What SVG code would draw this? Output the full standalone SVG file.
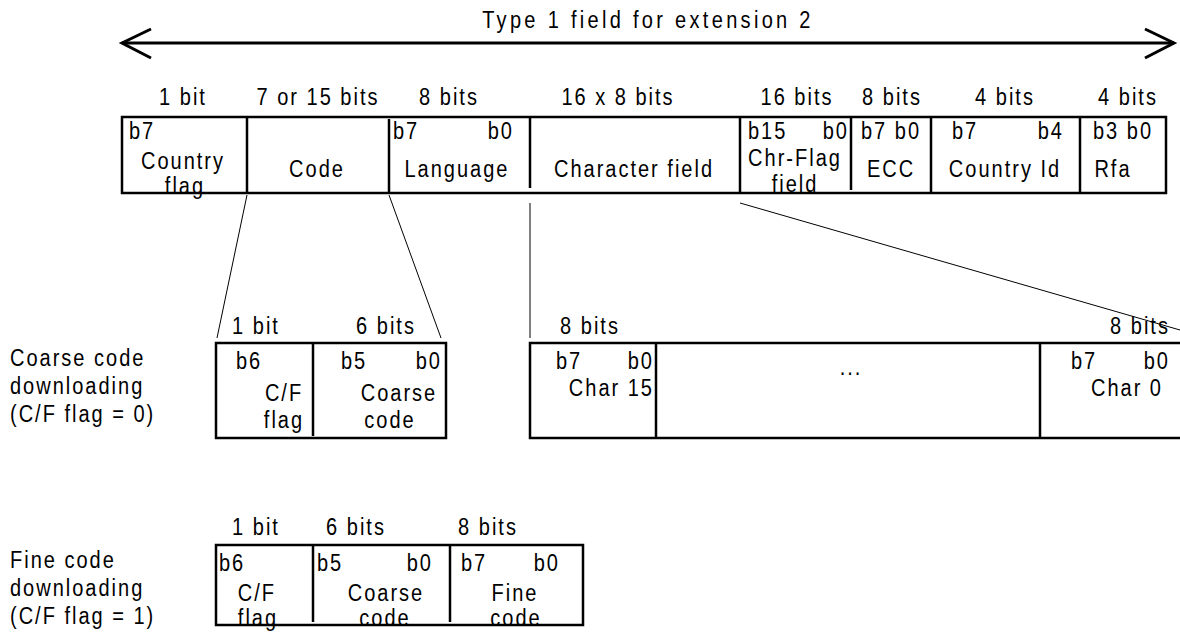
<svg xmlns="http://www.w3.org/2000/svg" width="1180" height="635" viewBox="0 0 1180 635">
<style>
text{font-family:"Liberation Sans",Arial,sans-serif;font-size:23px;letter-spacing:2.3px;fill:#000;transform-box:fill-box;transform-origin:0% 50%;transform:scaleX(0.87)}
.m{text-anchor:middle;transform-origin:50% 50%}
.e{text-anchor:end;transform-origin:100% 50%}
.t{letter-spacing:3.8px}
.box{fill:#fff;stroke:#000;stroke-width:2.5}
.div{stroke:#000;stroke-width:2.5;fill:none}
.thin{stroke:#000;stroke-width:1;fill:none}
.arrow{stroke:#000;stroke-width:3;fill:none}
</style>
<rect width="1180" height="635" fill="#fff"/>
<g id="title">
<text class="m t" x="648" y="28">Type 1 field for extension 2</text>
<line class="arrow" x1="122" y1="43" x2="1174" y2="43"/>
<polyline class="arrow" points="151,29 122,43 151,58"/>
<polyline class="arrow" points="1145,29 1174,43 1145,58"/>
</g>
<g id="main-row">
<text class="m" x="183" y="105">1 bit</text>
<text class="m" x="318" y="105">7 or 15 bits</text>
<text class="m" x="449" y="105">8 bits</text>
<text class="m" x="618" y="105">16 x 8 bits</text>
<text class="m" x="797" y="105">16 bits</text>
<text class="m" x="892" y="105">8 bits</text>
<text class="m" x="1005" y="105">4 bits</text>
<text class="m" x="1128" y="105">4 bits</text>
<rect class="box" x="122" y="117" width="1044" height="76"/>
<line class="div" x1="247" y1="117" x2="247" y2="193"/>
<line class="div" x1="389" y1="119" x2="389" y2="193"/>
<line class="div" x1="530" y1="117" x2="530" y2="188"/>
<line class="div" x1="740" y1="117" x2="740" y2="193"/>
<line class="div" x1="851" y1="117" x2="851" y2="190"/>
<line class="div" x1="931" y1="117" x2="931" y2="193"/>
<line class="div" x1="1080" y1="117" x2="1080" y2="193"/>
<text x="129" y="139">b7</text>
<text class="m" x="183" y="169">Country</text>
<text class="m" x="185" y="194">flag</text>
<text class="m" x="317" y="177">Code</text>
<text x="393" y="139">b7</text>
<text class="e" x="514" y="139">b0</text>
<text class="m" x="457" y="177">Language</text>
<text class="m" x="634" y="177">Character field</text>
<text x="748" y="139">b15</text>
<text class="e" x="849" y="139">b0</text>
<text class="m" x="795" y="166">Chr-Flag</text>
<text class="m" x="795" y="192">field</text>
<text class="m" x="891" y="139">b7 b0</text>
<text class="m" x="891" y="177">ECC</text>
<text x="952" y="139">b7</text>
<text class="e" x="1064" y="139">b4</text>
<text class="m" x="1005" y="177">Country Id</text>
<text class="m" x="1123" y="139">b3 b0</text>
<text class="m" x="1113" y="177">Rfa</text>
</g>
<g id="connectors">
<line class="thin" x1="247" y1="195" x2="217" y2="338"/>
<line class="thin" x1="389" y1="195" x2="441" y2="338"/>
<line class="thin" x1="530" y1="203" x2="530" y2="338"/>
<line class="thin" x1="740" y1="203" x2="1180" y2="330"/>
</g>
<g id="coarse-label">
<text x="10" y="366">Coarse code</text>
<text x="10" y="394">downloading</text>
<text x="10" y="422">(C/F flag = 0)</text>
</g>
<g id="coarse-box">
<text class="m" x="256" y="334">1 bit</text>
<text class="m" x="386" y="334">6 bits</text>
<rect class="box" x="216" y="343" width="230" height="95"/>
<line class="div" x1="313" y1="343" x2="313" y2="436"/>
<text x="236" y="369">b6</text>
<text class="m" x="284" y="401">C/F</text>
<text class="m" x="284" y="428">flag</text>
<text x="341" y="369">b5</text>
<text class="e" x="442" y="369">b0</text>
<text class="m" x="399" y="401">Coarse</text>
<text class="m" x="390" y="428">code</text>
</g>
<g id="char-box">
<text class="m" x="590" y="334">8 bits</text>
<text class="m" x="1140" y="334">8 bits</text>
<rect class="box" x="530" y="343" width="660" height="95"/>
<line class="div" x1="656" y1="343" x2="656" y2="438"/>
<line class="div" x1="1040" y1="343" x2="1040" y2="438"/>
<text x="556" y="369">b7</text>
<text class="e" x="654" y="369">b0</text>
<text class="e" x="654" y="396">Char 15</text>
<text class="m" x="851" y="375">...</text>
<text x="1071" y="369">b7</text>
<text class="e" x="1170" y="369">b0</text>
<text class="e" x="1163" y="396">Char 0</text>
</g>
<g id="fine-label">
<text x="10" y="568">Fine code</text>
<text x="10" y="596">downloading</text>
<text x="10" y="624">(C/F flag = 1)</text>
</g>
<g id="fine-box">
<text class="m" x="256" y="535">1 bit</text>
<text class="m" x="356" y="535">6 bits</text>
<text class="m" x="488" y="535">8 bits</text>
<rect class="box" x="216" y="545" width="367" height="80"/>
<line class="div" x1="313" y1="545" x2="313" y2="622"/>
<line class="div" x1="450" y1="545" x2="450" y2="622"/>
<text x="219" y="571">b6</text>
<text class="m" x="257" y="601">C/F</text>
<text class="m" x="258" y="626">flag</text>
<text x="317" y="571">b5</text>
<text class="e" x="433" y="571">b0</text>
<text class="m" x="386" y="601">Coarse</text>
<text class="m" x="385" y="626">code</text>
<text x="461" y="571">b7</text>
<text class="e" x="560" y="571">b0</text>
<text class="m" x="515" y="601">Fine</text>
<text class="m" x="516" y="626">code</text>
</g>
</svg>
